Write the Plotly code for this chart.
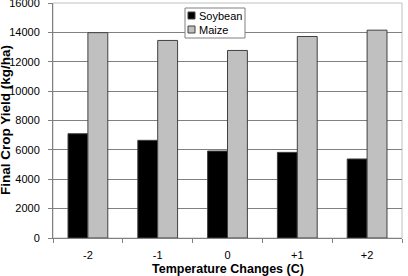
import plotly.graph_objects as go

categories = ["-2", "-1", "0", "+1", "+2"]
soybean = [7100, 6650, 5920, 5830, 5380]
maize = [13980, 13450, 12770, 13720, 14150]
series_names = ["Soybean", "Maize"]
y_ticks = [0, 2000, 4000, 6000, 8000, 10000, 12000, 14000, 16000]
y_tick_labels = [str(v) for v in y_ticks]
x_title = "Temperature Changes (C)"
y_title = "Final Crop Yield (kg/ha)"

FONT = "Liberation Sans, Arial, sans-serif"

fig = go.Figure()
fig.add_trace(go.Bar(x=categories, y=soybean, name=series_names[0],
                     marker=dict(color="#000000", line=dict(color="#404040", width=1))))
fig.add_trace(go.Bar(x=categories, y=maize, name=series_names[1],
                     marker=dict(color="#c0c0c0", line=dict(color="#404040", width=1))))

fig.update_layout(
    width=408, height=276,
    margin=dict(l=53, r=6, t=3, b=38),
    paper_bgcolor="white", plot_bgcolor="white",
    barmode="group", bargap=0.43, bargroupgap=0,
    showlegend=False,
    font=dict(family=FONT, size=11, color="black"),
)
fig.update_xaxes(
    type="category", tickson="boundaries", ticks="outside", ticklen=4,
    tickcolor="#808080", showline=True, linecolor="#808080", linewidth=1,
    showgrid=False, tickfont=dict(size=11), ticklabelstandoff=7,
    automargin=False,
)
fig.update_yaxes(
    range=[0, 16000], tickvals=y_ticks, ticktext=y_tick_labels,
    ticks="outside", ticklen=4, ticklabeloverflow="allow",
    tickcolor="#808080", showline=True, linecolor="#808080", linewidth=1,
    showgrid=True, gridcolor="#808080", gridwidth=1, zeroline=False,
    tickfont=dict(size=11), ticklabelstandoff=6, automargin=False,
)

# plot-area border (light gray, top/right)
fig.add_shape(type="rect", xref="paper", yref="paper", x0=0, x1=1, y0=0, y1=1,
              line=dict(color="#c0c0c0", width=1), layer="below")

px0, py0 = 53, 3
pw, ph = 402 - 53, 238 - 3
def fx(x):
    return (x - px0) / pw
def fy(y):
    return 1 - (y - py0) / ph

# axis titles
fig.add_annotation(xref="paper", yref="paper", x=fx(227.5), y=fy(269),
                   text="<b>" + x_title + "</b>", showarrow=False,
                   xanchor="center", yanchor="middle",
                   font=dict(size=12.5, family=FONT, color="black"))
fig.add_annotation(xref="paper", yref="paper", x=fx(6), y=fy(120),
                   text="<b>" + y_title + "</b>", showarrow=False, textangle=-90,
                   xanchor="center", yanchor="middle",
                   font=dict(size=13.5, family=FONT, color="black"))

# legend box drawn manually
fig.add_shape(type="rect", xref="paper", yref="paper",
              x0=fx(185), x1=fx(245), y0=fy(38), y1=fy(8),
              line=dict(color="#808080", width=1), fillcolor="white", layer="above")
colors = ["#000000", "#c0c0c0"]
for i, (name, c) in enumerate(zip(series_names, colors)):
    yc = 15.5 + i * 14
    fig.add_shape(type="rect", xref="paper", yref="paper",
                  x0=fx(188), x1=fx(195), y0=fy(yc + 3.5), y1=fy(yc - 3.5),
                  line=dict(color="#404040", width=1), fillcolor=c, layer="above")
    fig.add_annotation(xref="paper", yref="paper", x=fx(196.5), y=fy(yc),
                       text=name, showarrow=False, xanchor="left", yanchor="middle",
                       font=dict(size=11, family=FONT, color="black"))

fig.write_html("out.html")
